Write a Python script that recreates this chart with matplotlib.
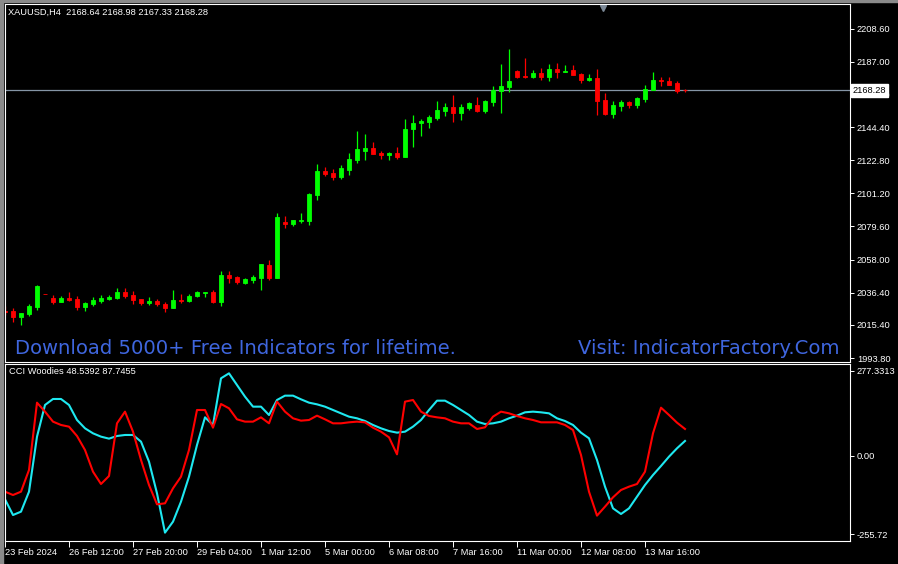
import matplotlib
matplotlib.use("Agg")
import matplotlib.pyplot as plt
from matplotlib.patches import Rectangle
import numpy as np

# XAUUSD H4 candles (oldest -> newest)
opens = [2024.4, 2024.4, 2020.5, 2022.5, 2027.0, 2035.5, 2032.9, 2030.3, 2032.9, 2032.3,
         2027.0, 2029.0, 2031.0, 2032.3, 2032.9, 2036.8, 2034.9, 2032.3, 2029.6, 2031.0,
         2029.0, 2026.4, 2031.6, 2031.0, 2034.2, 2036.2, 2036.8, 2030.3, 2047.9, 2046.6,
         2042.7, 2044.7, 2045.9, 2054.4, 2045.9, 2082.5, 2081.2, 2083.1, 2083.1, 2100.1,
         2115.7, 2114.4, 2111.8, 2116.4, 2122.9, 2128.7, 2130.7, 2127.4, 2126.1, 2127.4,
         2124.8, 2143.1, 2147.0, 2147.6, 2150.3, 2154.8, 2157.4, 2153.5, 2156.8, 2158.7,
         2154.8, 2160.7, 2167.8, 2170.5, 2180.9, 2177.6, 2177.0, 2179.6, 2177.0, 2182.2,
         2180.2, 2181.5, 2178.9, 2175.0, 2176.3, 2162.0, 2152.9, 2158.1, 2160.7, 2158.7,
         2162.6, 2168.5, 2175.0, 2174.4, 2173.1, 2168.64]
highs = [2027.7, 2026.4, 2023.1, 2029.0, 2041.4, 2035.5, 2034.9, 2034.2, 2036.8, 2034.2,
         2030.3, 2033.6, 2034.9, 2034.9, 2039.4, 2039.4, 2037.5, 2032.3, 2033.6, 2032.3,
         2030.3, 2038.1, 2035.5, 2035.5, 2037.5, 2036.8, 2038.1, 2050.5, 2050.5, 2047.2,
         2045.9, 2047.9, 2055.1, 2057.7, 2088.3, 2086.4, 2083.8, 2088.3, 2101.4, 2120.3,
         2118.3, 2117.0, 2119.6, 2127.4, 2141.8, 2139.8, 2134.6, 2128.7, 2128.1, 2131.3,
         2149.6, 2152.2, 2149.6, 2152.2, 2161.3, 2160.0, 2165.2, 2159.4, 2160.7, 2163.9,
         2162.0, 2171.1, 2185.4, 2195.2, 2181.5, 2189.4, 2181.5, 2182.8, 2185.4, 2186.1,
         2184.8, 2184.8, 2179.6, 2178.9, 2182.2, 2166.6, 2161.3, 2162.0, 2161.3, 2163.9,
         2171.8, 2180.2, 2177.0, 2177.0, 2174.4, 2168.98]
lows = [2021.8, 2017.3, 2015.3, 2021.2, 2025.1, 2035.3, 2029.0, 2030.3, 2031.0, 2025.1,
        2024.4, 2027.7, 2029.6, 2031.6, 2032.3, 2032.9, 2029.0, 2028.3, 2028.3, 2027.7,
        2023.8, 2026.4, 2029.6, 2030.3, 2033.6, 2033.6, 2029.6, 2027.7, 2042.7, 2042.0,
        2042.0, 2042.7, 2038.1, 2044.7, 2045.9, 2078.5, 2079.8, 2081.8, 2080.5, 2096.8,
        2112.4, 2109.8, 2110.5, 2113.1, 2120.9, 2122.9, 2126.8, 2123.5, 2122.9, 2123.5,
        2124.8, 2131.3, 2138.5, 2143.7, 2148.9, 2151.6, 2147.6, 2148.9, 2155.5, 2154.2,
        2153.5, 2158.1, 2153.5, 2167.2, 2176.3, 2176.3, 2176.3, 2175.0, 2174.4, 2176.3,
        2180.2, 2178.3, 2173.1, 2174.4, 2152.2, 2152.2, 2150.3, 2154.8, 2156.8, 2156.8,
        2160.7, 2168.5, 2171.1, 2171.8, 2166.6, 2167.33]
closes = [2023.8, 2020.5, 2023.1, 2027.7, 2040.7, 2035.3, 2030.3, 2032.9, 2031.6, 2027.0,
          2029.6, 2031.6, 2032.9, 2033.6, 2036.8, 2034.2, 2031.6, 2029.6, 2031.0, 2029.0,
          2026.4, 2031.6, 2031.0, 2034.2, 2036.8, 2036.8, 2030.3, 2047.9, 2045.9, 2043.3,
          2045.3, 2046.6, 2055.1, 2045.9, 2085.7, 2081.2, 2083.8, 2083.8, 2100.7, 2115.7,
          2113.8, 2111.8, 2117.7, 2123.5, 2130.0, 2130.7, 2126.8, 2126.1, 2127.4, 2124.8,
          2143.1, 2147.0, 2148.3, 2150.9, 2155.5, 2157.4, 2153.5, 2157.4, 2160.0, 2154.8,
          2161.3, 2168.5, 2171.1, 2174.4, 2177.0, 2177.0, 2179.6, 2177.0, 2182.2, 2180.2,
          2180.9, 2178.3, 2175.0, 2176.3, 2161.3, 2152.9, 2158.7, 2160.7, 2158.7, 2163.3,
          2169.2, 2175.0, 2174.4, 2171.8, 2167.8, 2168.28]

# CCI Woodies: CCI (cyan) and turbo CCI (red)
cci = [-142.3, -193.6, -182.7, -117.3, 62.6, 166.2, 185.8, 185.8, 166.2, 117.1,
       89.9, 73.5, 62.6, 56.1, 64.8, 68.1, 68.1, 46.3, -19.2, -122.7,
       -251.3, -215.4, -149.9, -68.2, 35.4, 125.8, 100.8, 253.4, 269.7, 231.5,
       193.4, 160.7, 160.7, 133.4, 182.5, 196.7, 196.7, 184.7, 173.8, 168.3,
       160.7, 149.8, 138.9, 128.0, 122.6, 113.8, 100.8, 89.9, 81.1, 75.7,
       78.9, 95.3, 117.1, 149.8, 180.3, 180.3, 166.2, 149.8, 133.4, 111.7,
       104.0, 106.2, 111.7, 122.6, 131.3, 142.2, 144.4, 142.2, 138.9, 122.6,
       113.8, 100.8, 75.7, 57.2, -13.7, -100.9, -171.8, -190.3, -171.8, -133.6,
       -95.5, -62.8, -33.3, -2.8, 24.5, 48.54]
tcci = [-117.3, -128.2, -117.3, -46.4, 173.8, 144.4, 111.7, 100.8, 95.3, 64.8,
        19.0, -51.9, -92.2, -66.0, 106.2, 144.4, 78.9, -13.7, -95.5, -158.7,
        -155.4, -106.4, -68.2, 19.0, 149.8, 149.8, 92.0, 169.4, 155.3, 119.3,
        111.7, 111.7, 125.8, 106.2, 177.1, 144.4, 122.6, 114.9, 117.1, 131.3,
        119.3, 106.2, 106.2, 109.5, 111.7, 109.5, 92.0, 78.9, 60.4, 4.8,
        177.1, 182.5, 144.4, 130.2, 125.8, 122.6, 111.7, 106.2, 106.2, 87.7,
        93.1, 128.0, 144.4, 138.9, 130.2, 122.6, 117.1, 109.5, 109.5, 109.5,
        100.8, 84.4, 2.7, -117.3, -195.7, -166.3, -135.8, -111.8, -100.9, -92.2,
        -51.9, 73.5, 157.4, 133.4, 108.4, 87.75]

time_labels = ["23 Feb 2024", "26 Feb 12:00", "27 Feb 20:00", "29 Feb 04:00", "1 Mar 12:00",
               "5 Mar 00:00", "6 Mar 08:00", "7 Mar 16:00", "11 Mar 00:00", "12 Mar 08:00",
               "13 Mar 16:00"]
time_label_bars = [0, 8, 16, 24, 32, 40, 48, 56, 64, 72, 80]
price_ticks = [2208.60, 2187.00, 2165.40, 2144.40, 2122.80, 2101.20, 2079.60, 2058.00,
               2036.40, 2015.40, 1993.80]
cci_ticks = [277.3313, 0.0, -255.72]
cci_tick_labels = ["277.3313", "0.00", "-255.72"]
last_price = 2168.28

W, H = 898, 564
BG = "black"
FG = "white"
LBL = dict(family="Liberation Sans", size=6.7)


def rect(x0, y0, x1, y1):
    return [x0 / W, 1 - y1 / H, (x1 - x0) / W, (y1 - y0) / H]


fig = plt.figure(figsize=(W / 100, H / 100), dpi=100, facecolor=BG)
fig.patches.append(Rectangle((0, 0), 2.5 / W, 1, transform=fig.transFigure, color="#8a8a8a"))
fig.patches.append(Rectangle((0, 1 - 2 / H), 1, 2 / H, transform=fig.transFigure, color="#8a8a8a"))

ax = fig.add_axes(rect(5, 4, 850, 362), facecolor=BG)
ax2 = fig.add_axes(rect(5, 364, 850, 541), facecolor=BG, sharex=ax)

x = np.arange(len(opens))
o = np.array(opens)
c = np.array(closes)
cols = np.where(c >= o, "#00ff00", "#ff0000")

# candles
ax.vlines(x, lows, highs, colors=cols, linewidth=0.9)
ax.bar(x, np.abs(c - o), bottom=np.minimum(o, c), width=0.62, color=cols,
       edgecolor=cols, linewidth=0.6)
ax.axhline(last_price, color="#8595a6", linewidth=0.9, zorder=0.5)

ax.set_xlim(0, 845 / 8)
ax.set_ylim(1991.2, 2224.6)

# indicator
ax2.plot(x, cci, color="#1ee8f0", linewidth=1.5)
ax2.plot(x, tcci, color="#ff0000", linewidth=1.5)
ax2.set_ylim(-278.6, 300.2)

for a in (ax, ax2):
    for s in a.spines.values():
        s.set_color(FG)
        s.set_linewidth(0.8)
    a.yaxis.tick_right()
    a.tick_params(axis="y", colors=FG, length=3, width=0.7, pad=2, labelsize=LBL["size"])

ax.set_yticks(price_ticks, [f"{v:.2f}" for v in price_ticks])
for t in ax.get_yticklabels():
    t.set_family(LBL["family"])
ax.tick_params(axis="x", bottom=False, labelbottom=False)

ax2.set_yticks(cci_ticks, cci_tick_labels)
for t in ax2.get_yticklabels():
    t.set_family(LBL["family"])
ax2.set_xticks(time_label_bars, time_labels)
ax2.tick_params(axis="x", colors=FG, length=4, width=0.7, pad=1, labelsize=LBL["size"])
for t in ax2.get_xticklabels():
    t.set_family(LBL["family"])
    t.set_ha("left")

# last price box on the price scale (covers the 2165.40 label, as in MT4)
ax.annotate(f"{last_price:.2f}", xy=(1, last_price), xycoords=("axes fraction", "data"),
            xytext=(2, 0), textcoords="offset points", ha="left", va="center",
            color="black", bbox=dict(boxstyle="square,pad=0.2", fc="white", ec="white"),
            annotation_clip=False, zorder=10, **LBL)

# shift marker at top
ax.plot([(603 - 5) / 845], [1 - 4 / 358], marker="v", ms=5, color="#7b8896",
        transform=ax.transAxes, clip_on=False)

fig.text(8 / W, 1 - 12 / H, "XAUUSD,H4  2168.64 2168.98 2167.33 2168.28", color=FG,
         va="center", ha="left", **LBL)
fig.text(9 / W, 1 - 372 / H, "CCI Woodies 48.5392 87.7455", color=FG,
         va="center", ha="left", **LBL)

wm = dict(color="#3f66de", fontsize=14.1, family="DejaVu Sans", va="baseline")
fig.text(15 / W, 1 - 354 / H, "Download 5000+ Free Indicators for lifetime.", ha="left", **wm)
fig.text(840 / W, 1 - 354 / H, "Visit: IndicatorFactory.Com", ha="right", **wm)

fig.savefig("out.png", dpi=100, facecolor=BG)
